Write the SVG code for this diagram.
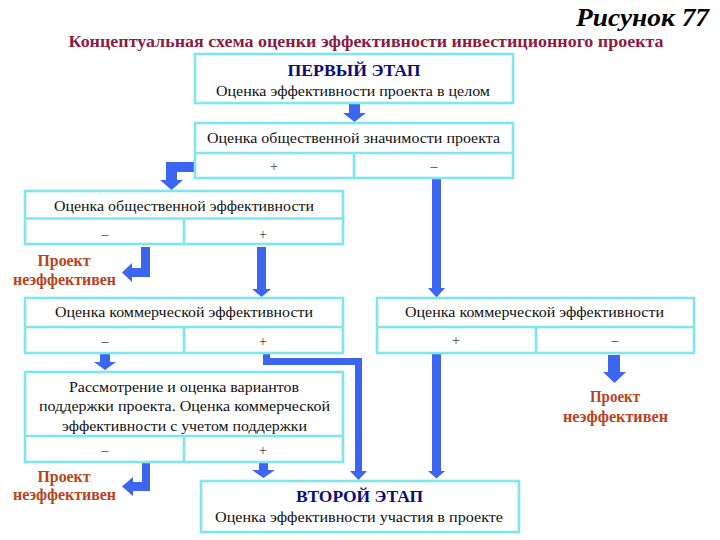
<svg xmlns="http://www.w3.org/2000/svg" width="720" height="540" viewBox="0 0 720 540">
<style>
.box{fill:#fff;stroke:#7fe5ee;stroke-width:2.6}
.ln{stroke:#7fe5ee;stroke-width:2.6}
.a{fill:#3d66f0}
</style>
<rect width="720" height="540" fill="#fff"/>
<text x="709" y="26" font-family="Liberation Serif" font-size="26" font-weight="bold" font-style="italic" fill="#000" text-anchor="end" textLength="133" lengthAdjust="spacingAndGlyphs">Рисунок 77</text>
<text x="366" y="47" font-family="Liberation Serif" font-size="16" font-weight="bold" fill="#8c1b3f" text-anchor="middle" textLength="595" lengthAdjust="spacingAndGlyphs">Концептуальная схема оценки эффективности инвестиционного проекта</text>

<g id="connectors">
<polygon class="a" points="349,104 360,104 360,113 366,113 354.5,122 343,113 349,113"/>
<polygon class="a" points="195,162 195,172 177,172 177,180 183,180 171.5,190 160,180 166,180 166,162"/>
<polygon class="a" points="141,247 150,247 150,277 132,277 132,282 122,272.5 132,263 132,268 141,268"/>
<polygon class="a" points="257,247 266,247 266,289 271,289 261.5,297 252,289 257,289"/>
<polygon class="a" points="432,179 441,179 441,288 445,288 436.5,297.5 428,288 432,288"/>
<polygon class="a" points="100,354 110,354 110,362 116,362 105,370 94,362 100,362"/>
<polygon class="a" points="263,354 270,354 270,358 362,358 362,471 367,471 358.5,480 350,471 355,471 355,365 263,365"/>
<polygon class="a" points="432,354 441,354 441,471 445,471 436.5,478.5 428,471 432,471"/>
<polygon class="a" points="608,355 620,355 620,372 626,372 614.5,383 603,372 608,372"/>
<polygon class="a" points="142,463 150,463 150,491 133,491 133,496 122,486.5 133,477 133,482 142,482"/>
<polygon class="a" points="259,463 268,463 268,470 275,470 263.5,478 252,470 259,470"/>
</g>

<g id="stage1">
<rect class="box" x="195" y="54" width="318" height="49"/>
<text x="354" y="76" font-family="Liberation Serif" font-size="17" font-weight="bold" fill="#0c0c7a" text-anchor="middle" textLength="133" lengthAdjust="spacingAndGlyphs">ПЕРВЫЙ ЭТАП</text>
<text x="353" y="95.5" font-family="Liberation Serif" font-size="15.5" fill="#111" text-anchor="middle" textLength="274" lengthAdjust="spacingAndGlyphs">Оценка эффективности проекта в целом</text>
</g>

<g id="social-significance">
<rect class="box" x="195" y="123" width="318" height="55"/>
<line class="ln" x1="195" y1="153" x2="513" y2="153"/>
<line class="ln" x1="354" y1="153" x2="354" y2="178"/>
<text x="353.5" y="143" font-family="Liberation Serif" font-size="15.5" fill="#111" text-anchor="middle" textLength="293" lengthAdjust="spacingAndGlyphs">Оценка общественной значимости проекта</text>
<text x="274" y="171" font-family="Liberation Serif" font-size="14" fill="#444" text-anchor="middle">+</text>
<text x="434" y="171" font-family="Liberation Serif" font-size="14" fill="#444" text-anchor="middle">–</text>
</g>

<g id="social-efficiency">
<rect class="box" x="25" y="191" width="318" height="53"/>
<line class="ln" x1="25" y1="218.5" x2="343" y2="218.5"/>
<line class="ln" x1="184" y1="218.5" x2="184" y2="244"/>
<text x="184" y="210.5" font-family="Liberation Serif" font-size="15.5" fill="#111" text-anchor="middle" textLength="260" lengthAdjust="spacingAndGlyphs">Оценка общественной эффективности</text>
<text x="105" y="239" font-family="Liberation Serif" font-size="14" fill="#444" text-anchor="middle">–</text>
<text x="263" y="239" font-family="Liberation Serif" font-size="14" fill="#444" text-anchor="middle">+</text>
</g>

<g id="ineffective-1">
<text x="64" y="266" font-family="Liberation Serif" font-size="16" font-weight="bold" fill="#b8441c" text-anchor="middle" textLength="53" lengthAdjust="spacingAndGlyphs">Проект</text>
<text x="64.5" y="285" font-family="Liberation Serif" font-size="16" font-weight="bold" fill="#b8441c" text-anchor="middle" textLength="103" lengthAdjust="spacingAndGlyphs">неэффективен</text>
</g>

<g id="commercial-left">
<rect class="box" x="25" y="298" width="318" height="55"/>
<line class="ln" x1="25" y1="327" x2="343" y2="327"/>
<line class="ln" x1="184" y1="327" x2="184" y2="353"/>
<text x="184" y="316.5" font-family="Liberation Serif" font-size="15.5" fill="#111" text-anchor="middle" textLength="258" lengthAdjust="spacingAndGlyphs">Оценка коммерческой эффективности</text>
<text x="105" y="346" font-family="Liberation Serif" font-size="14" fill="#444" text-anchor="middle">–</text>
<text x="263" y="346" font-family="Liberation Serif" font-size="14" fill="#444" text-anchor="middle">+</text>
</g>

<g id="commercial-right">
<rect class="box" x="377" y="298" width="317" height="55"/>
<line class="ln" x1="377" y1="327" x2="694" y2="327"/>
<line class="ln" x1="536" y1="327" x2="536" y2="353"/>
<text x="534.5" y="317" font-family="Liberation Serif" font-size="15.5" fill="#111" text-anchor="middle" textLength="259" lengthAdjust="spacingAndGlyphs">Оценка коммерческой эффективности</text>
<text x="456" y="345" font-family="Liberation Serif" font-size="14" fill="#444" text-anchor="middle">+</text>
<text x="615" y="345" font-family="Liberation Serif" font-size="14" fill="#444" text-anchor="middle">–</text>
</g>

<g id="ineffective-2">
<text x="615" y="402" font-family="Liberation Serif" font-size="16" font-weight="bold" fill="#b8441c" text-anchor="middle" textLength="50" lengthAdjust="spacingAndGlyphs">Проект</text>
<text x="615.5" y="421.5" font-family="Liberation Serif" font-size="16" font-weight="bold" fill="#b8441c" text-anchor="middle" textLength="105" lengthAdjust="spacingAndGlyphs">неэффективен</text>
</g>

<g id="support">
<rect class="box" x="25" y="372" width="318" height="90"/>
<line class="ln" x1="25" y1="436" x2="343" y2="436"/>
<line class="ln" x1="184" y1="436" x2="184" y2="462"/>
<text x="184" y="391.5" font-family="Liberation Serif" font-size="15.5" fill="#111" text-anchor="middle" textLength="230" lengthAdjust="spacingAndGlyphs">Рассмотрение и оценка вариантов</text>
<text x="184.5" y="411" font-family="Liberation Serif" font-size="15.5" fill="#111" text-anchor="middle" textLength="291" lengthAdjust="spacingAndGlyphs">поддержки проекта. Оценка коммерческой</text>
<text x="184.5" y="430.5" font-family="Liberation Serif" font-size="15.5" fill="#111" text-anchor="middle" textLength="245" lengthAdjust="spacingAndGlyphs">эффективности с учетом поддержки</text>
<text x="105" y="455" font-family="Liberation Serif" font-size="14" fill="#444" text-anchor="middle">–</text>
<text x="263" y="455" font-family="Liberation Serif" font-size="14" fill="#444" text-anchor="middle">+</text>
</g>

<g id="ineffective-3">
<text x="64" y="481.5" font-family="Liberation Serif" font-size="16" font-weight="bold" fill="#b8441c" text-anchor="middle" textLength="53" lengthAdjust="spacingAndGlyphs">Проект</text>
<text x="64.5" y="500" font-family="Liberation Serif" font-size="16" font-weight="bold" fill="#b8441c" text-anchor="middle" textLength="103" lengthAdjust="spacingAndGlyphs">неэффективен</text>
</g>

<g id="stage2">
<rect class="box" x="201" y="481" width="318" height="51"/>
<text x="359.5" y="501.5" font-family="Liberation Serif" font-size="17" font-weight="bold" fill="#0c0c7a" text-anchor="middle" textLength="127" lengthAdjust="spacingAndGlyphs">ВТОРОЙ ЭТАП</text>
<text x="359" y="521.5" font-family="Liberation Serif" font-size="15.5" fill="#111" text-anchor="middle" textLength="288" lengthAdjust="spacingAndGlyphs">Оценка эффективности  участия в проекте</text>
</g>
</svg>
